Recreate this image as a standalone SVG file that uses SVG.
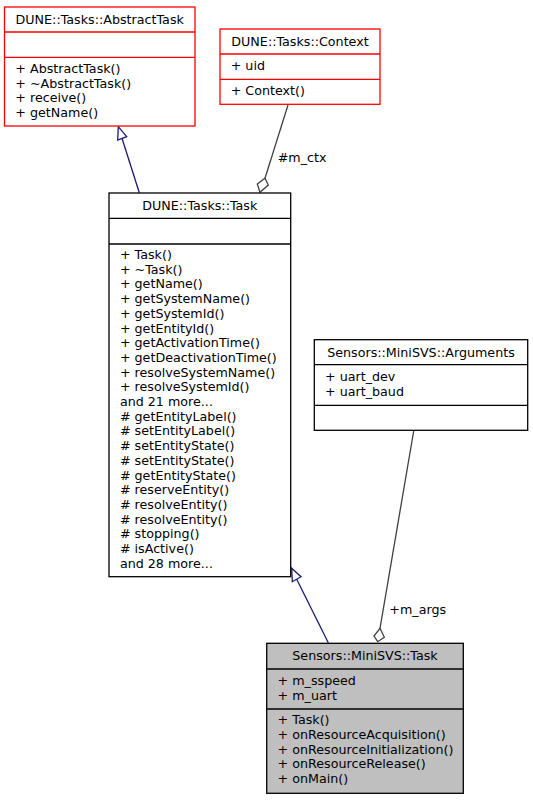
<svg xmlns="http://www.w3.org/2000/svg" width="533" height="800" viewBox="0 0 533 800">
<style>
text{font-family:"DejaVu Sans",sans-serif;font-size:12.7px;fill:#000}
.t{text-anchor:middle}
.red{fill:#fff;stroke:#ff0000;stroke-width:1.3}
.blk{fill:#fff;stroke:#000;stroke-width:1.3}
.gry{fill:#bfbfbf;stroke:#000;stroke-width:1.3}
.dr{stroke:#ff0000;stroke-width:1.3}
.db{stroke:#000;stroke-width:1.3}
.inh{stroke:#191970;stroke-width:1.3;fill:none}
.inhh{stroke:#191970;stroke-width:1.3;fill:#fff}
.agg{stroke:#404040;stroke-width:1.3;fill:none}
.aggh{stroke:#404040;stroke-width:1.3;fill:#fff}
</style>
<rect width="533" height="800" fill="#fff"/>
<g id="connectors">
<line class="inh" x1="139.3" y1="192.7" x2="122" y2="138.3"/>
<polygon class="inhh" points="118.3,126.7 117.7,140 126.7,136.7"/>
<line class="agg" x1="288" y1="105" x2="265" y2="178.3"/>
<polygon class="aggh" points="265,178.3 268.3,185 260,192.3 257.3,184"/>
<text x="277.7" y="162">#m_ctx</text>
<line class="inh" x1="328.3" y1="642.7" x2="296.7" y2="579.2"/>
<polygon class="inhh" points="291.7,568.3 292.3,581.7 301,576.7"/>
<line class="agg" x1="413.7" y1="431" x2="380" y2="628.3"/>
<polygon class="aggh" points="380,628.3 384.3,637.3 377.7,641.7 374,636"/>
<text x="389.3" y="614">+m_args</text>
</g>
<g id="node-abstracttask">
<rect class="red" x="4.5" y="7" width="190.5" height="119"/>
<line class="dr" x1="4.5" y1="32" x2="195" y2="32"/>
<line class="dr" x1="4.5" y1="57.3" x2="195" y2="57.3"/>
<text class="t" x="99.7" y="23.5">DUNE::Tasks::AbstractTask</text>
<text x="15.3" y="73">+ AbstractTask()</text>
<text x="15.3" y="87.7">+ ~AbstractTask()</text>
<text x="15.3" y="102.4">+ receive()</text>
<text x="15.3" y="117.1">+ getName()</text>
</g>
<g id="node-context">
<rect class="red" x="220" y="29" width="160" height="75.3"/>
<line class="dr" x1="220" y1="54" x2="380" y2="54"/>
<line class="dr" x1="220" y1="79.3" x2="380" y2="79.3"/>
<text class="t" x="300" y="45.7">DUNE::Tasks::Context</text>
<text x="230.7" y="69.5">+ uid</text>
<text x="230.7" y="94.5">+ Context()</text>
</g>
<g id="node-task">
<rect class="blk" x="109" y="193" width="181.7" height="383.7"/>
<line class="db" x1="109" y1="218.3" x2="290.7" y2="218.3"/>
<line class="db" x1="109" y1="244" x2="290.7" y2="244"/>
<text class="t" x="199.8" y="210">DUNE::Tasks::Task</text>
<text x="119.9" y="259">+ Task()</text>
<text x="119.9" y="273.7">+ ~Task()</text>
<text x="119.9" y="288.4">+ getName()</text>
<text x="119.9" y="303.1">+ getSystemName()</text>
<text x="119.9" y="317.8">+ getSystemId()</text>
<text x="119.9" y="332.5">+ getEntityId()</text>
<text x="119.9" y="347.2">+ getActivationTime()</text>
<text x="119.9" y="361.9">+ getDeactivationTime()</text>
<text x="119.9" y="376.6">+ resolveSystemName()</text>
<text x="119.9" y="391.3">+ resolveSystemId()</text>
<text x="119.9" y="406">and 21 more...</text>
<text x="119.9" y="420.7"># getEntityLabel()</text>
<text x="119.9" y="435.4"># setEntityLabel()</text>
<text x="119.9" y="450.1"># setEntityState()</text>
<text x="119.9" y="464.8"># setEntityState()</text>
<text x="119.9" y="479.5"># getEntityState()</text>
<text x="119.9" y="494.2"># reserveEntity()</text>
<text x="119.9" y="508.9"># resolveEntity()</text>
<text x="119.9" y="523.6"># resolveEntity()</text>
<text x="119.9" y="538.3"># stopping()</text>
<text x="119.9" y="553"># isActive()</text>
<text x="119.9" y="567.7">and 28 more...</text>
</g>
<g id="node-arguments">
<rect class="blk" x="314.3" y="339.7" width="213.4" height="90.6"/>
<line class="db" x1="314.3" y1="364.7" x2="527.7" y2="364.7"/>
<line class="db" x1="314.3" y1="405.3" x2="527.7" y2="405.3"/>
<text class="t" x="421" y="356.7">Sensors::MiniSVS::Arguments</text>
<text x="325" y="380.7">+ uart_dev</text>
<text x="325" y="395.5">+ uart_baud</text>
</g>
<g id="node-minisvs-task">
<rect class="gry" x="266.7" y="643.3" width="196.6" height="150"/>
<line class="db" x1="266.7" y1="669" x2="463.3" y2="669"/>
<line class="db" x1="266.7" y1="709" x2="463.3" y2="709"/>
<text class="t" x="365" y="660">Sensors::MiniSVS::Task</text>
<text x="277.6" y="685">+ m_sspeed</text>
<text x="277.6" y="699.8">+ m_uart</text>
<text x="277.6" y="724.3">+ Task()</text>
<text x="277.6" y="739">+ onResourceAcquisition()</text>
<text x="277.6" y="753.7">+ onResourceInitialization()</text>
<text x="277.6" y="768.4">+ onResourceRelease()</text>
<text x="277.6" y="783.1">+ onMain()</text>
</g>
</svg>
